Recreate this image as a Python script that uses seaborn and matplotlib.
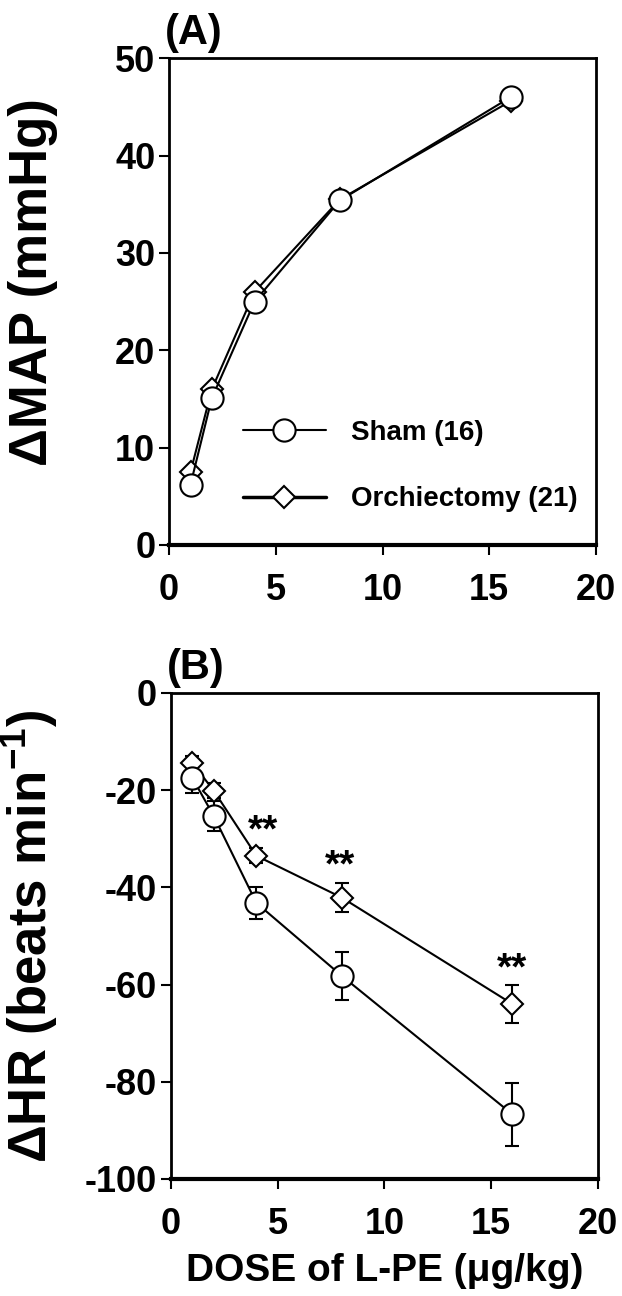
#### Importing Libraries
import numpy as np
import pandas as pd
import matplotlib
matplotlib.use('Agg')
import matplotlib.pyplot as plt
import seaborn as sns
from matplotlib.lines import Line2D

#### Data
dose = [1, 2, 4, 8, 16]
groups = ['Sham (16)', 'Orchiectomy (21)']

map_sham = [6.2, 15.1, 25.0, 35.4, 46.0]
map_orch = [7.5, 16.0, 26.0, 35.5, 45.6]

hr_sham = [-17.5, -25.3, -43.2, -58.2, -86.7]
hr_sham_err = [3.0, 3.0, 3.3, 5.0, 6.5]
hr_orch = [-14.4, -20.1, -33.5, -42.1, -64.0]
hr_orch_err = [1.5, 1.5, 1.5, 3.0, 4.0]

stars_x = [4.3, 7.9, 16.0]
stars_y = [-28.5, -35.7, -56.8]

#### Style
sns.set_style('ticks')
plt.rcParams['font.family'] = ['Liberation Sans', 'DejaVu Sans']
plt.rcParams['font.weight'] = 'bold'
plt.rcParams['axes.unicode_minus'] = False
plt.rcParams['text.color'] = 'black'
plt.rcParams['axes.labelcolor'] = 'black'
plt.rcParams['axes.edgecolor'] = 'black'
plt.rcParams['xtick.color'] = 'black'
plt.rcParams['ytick.color'] = 'black'
plt.rcParams['mathtext.fontset'] = 'custom'
plt.rcParams['mathtext.rm'] = 'Liberation Sans:bold'
plt.rcParams['mathtext.it'] = 'Liberation Sans:bold'
plt.rcParams['mathtext.bf'] = 'Liberation Sans:bold'

markers = {'Sham (16)': 'o', 'Orchiectomy (21)': 'D'}
msizes = {'Sham (16)': 16, 'Orchiectomy (21)': 11.5}
lwidths = {'Sham (16)': 1.5, 'Orchiectomy (21)': 1.5}

df_map = pd.DataFrame({'dose': dose * 2,
                       'val': map_sham + map_orch,
                       'group': [groups[0]] * 5 + [groups[1]] * 5})
df_hr = pd.DataFrame({'dose': dose * 2,
                      'val': hr_sham + hr_orch,
                      'err': hr_sham_err + hr_orch_err,
                      'group': [groups[0]] * 5 + [groups[1]] * 5})

fig = plt.figure(figsize=(6.22, 12.96), dpi=100)
axA = fig.add_axes([0.272, 0.5795, 0.686, 0.3755])
axB = fig.add_axes([0.275, 0.0903, 0.686, 0.375])


def draw(ax, df, with_err):
    # orchiectomy first so sham circles sit over it like the original
    for g in [groups[1], groups[0]]:
        sub = df[df['group'] == g]
        if with_err:
            ax.errorbar(sub['dose'], sub['val'], yerr=sub['err'], fmt='none',
                        ecolor='black', elinewidth=1.5, capsize=5, capthick=1.5, zorder=2)
        sns.lineplot(data=sub, x='dose', y='val', ax=ax, color='black',
                     lw=lwidths[g], marker=markers[g], markersize=msizes[g],
                     markerfacecolor='white', markeredgecolor='black',
                     markeredgewidth=1.5, legend=False, zorder=3)


def style(ax, ylim, yticks, ylabel, tag, ylsize, ylpos):
    ax.set_xlim(0, 20)
    ax.set_ylim(*ylim)
    ax.set_xticks([0, 5, 10, 15, 20])
    ax.set_yticks(yticks)
    for s in ax.spines.values():
        s.set_visible(True)
        s.set_linewidth(2)
        s.set_color('black')
    ax.spines['bottom'].set_linewidth(3)
    ax.tick_params(axis='both', labelsize=26, width=1.5, length=7, pad=3, colors='black')
    ax.tick_params(axis='x', pad=13)
    for lab in ax.get_xticklabels() + ax.get_yticklabels():
        lab.set_fontweight('bold')
    ax.set_xlabel('')
    ax.set_ylabel(ylabel, fontsize=ylsize, fontweight='bold')
    ax.yaxis.set_label_coords(-0.26, ylpos)
    ax.text(-0.01, 1.01, tag, transform=ax.transAxes, fontsize=30,
            fontweight='bold', ha='left', va='bottom')


draw(axA, df_map, False)
draw(axB, df_hr, True)

style(axA, (0, 50), [0, 10, 20, 30, 40, 50], '\u0394MAP (mmHg)', '(A)', 38, 0.54)
style(axB, (-100, 0), [-100, -80, -60, -40, -20, 0],
      '\u0394HR (beats min$^{-1}$)', '(B)', 38, 0.5)

axB.set_xlabel('DOSE of L-PE (\u03bcg/kg)', fontsize=28, fontweight='bold', labelpad=8)

for x, y in zip(stars_x, stars_y):
    axB.text(x, y, '**', fontsize=28, fontweight='bold', ha='center', va='center')

#### Legend for panel A
handles = [Line2D([], [], color='black', lw=1.5, marker='o', markersize=16,
                  markerfacecolor='white', markeredgewidth=1.5),
           Line2D([], [], color='black', lw=2.5, marker='D', markersize=11.5,
                  markerfacecolor='white', markeredgewidth=1.5)]
axA.legend(handles, groups, loc='upper left', bbox_to_anchor=(0.14, 0.285),
           frameon=False, borderpad=0, handlelength=3.0, handletextpad=0.9,
           labelspacing=1.45, prop={'size': 20, 'weight': 'bold'})

plt.savefig('out.png', dpi=100)
